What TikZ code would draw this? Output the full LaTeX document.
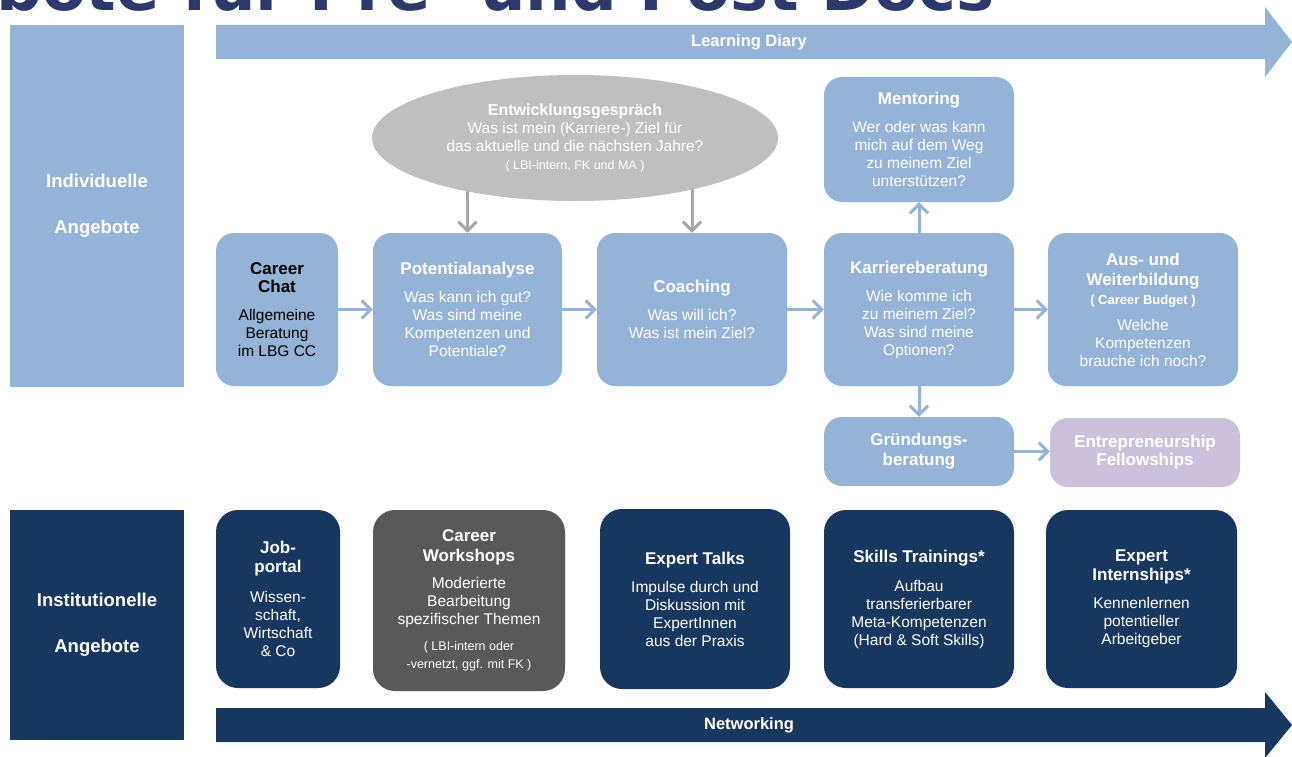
\documentclass[tikz,border=0pt]{standalone}
\usepackage{fontspec}
\setmainfont{Liberation Sans}
\newfontfamily\headfont{DejaVu Sans}
\usetikzlibrary{arrows.meta,shapes.geometric,backgrounds}
\definecolor{lblue}{HTML}{95B3D7}
\definecolor{navy}{HTML}{17375E}
\definecolor{dgray}{HTML}{595959}
\definecolor{lgray}{HTML}{BFBFBF}
\definecolor{agray}{HTML}{A6A6A6}
\definecolor{lpurple}{HTML}{CCC1DA}
\definecolor{titleblue}{HTML}{2B3A6B}
\newcommand{\tfont}{\fontsize{17}{18}\selectfont\bfseries}
\newcommand{\bfont}{\fontsize{15.5}{18}\selectfont\mdseries}
\newcommand{\sfont}{\fontsize{12.5}{18}\selectfont\mdseries}
\tikzset{
  cardbase/.style={rounded corners=18pt, inner sep=0pt, align=center, text=white,
    font=\fontsize{15.5}{18}\selectfont},
  lcard/.style={cardbase, fill=lblue},
  ncard/.style={cardbase, fill=navy, rounded corners=22pt},
  gcard/.style={cardbase, fill=dgray, rounded corners=22pt},
  pcard/.style={cardbase, fill=lpurple},
  panel/.style={inner sep=0pt, align=center, text=white,
    font=\fontsize{18.5}{46}\selectfont\bfseries},
  flow/.style={draw=lblue, line width=3pt, -{Straight Barb[length=9pt,width=18pt]}},
  gflow/.style={draw=agray, line width=3pt, -{Straight Barb[length=9pt,width=18pt]}},
  bannertext/.style={text=white, inner sep=0pt, font=\fontsize{16.5}{18}\selectfont\bfseries},
}
\begin{document}
\begin{tikzpicture}[x=1pt,y=-1pt]
\useasboundingbox (0,0) rectangle (1292,757);
% clipped heading
\begin{scope}
  \clip (0,0) rectangle (1292,757);
  \node[anchor=base west, inner sep=0pt, text=titleblue,
        font=\headfont\fontsize{64}{70}\selectfont\bfseries] (heading) at (-4,11) {bote für Pre- und Post Docs};
\end{scope}
% banners
\fill[lblue] (216,25) -- (1265,25) -- (1265,7) -- (1292,42) -- (1265,77) -- (1265,59) -- (216,59) -- cycle;
\node[bannertext] (diary) at (749,42) {Learning Diary};
\fill[navy] (216,708) -- (1265,708) -- (1265,692) -- (1292,725) -- (1265,758) -- (1265,742) -- (216,742) -- cycle;
\node[bannertext] (netw) at (749,725) {Networking};
% side panels
\node[panel, fill=lblue, minimum width=174, minimum height=362] (indiv) at (97,206) {Individuelle\\Angebote};
\node[panel, fill=navy, minimum width=174, minimum height=230] (inst) at (97,625) {Institutionelle\\Angebote};
% ellipse
\node[ellipse, fill=lgray, minimum width=406, minimum height=126, inner sep=0pt, align=center,
      text=white, font=\fontsize{15.5}{18}\selectfont] (ell) at (575,138)
  {{\fontsize{16}{18}\selectfont\bfseries Entwicklungsgespräch}\\Was ist mein (Karriere-) Ziel für\\das aktuelle und die nächsten Jahre?\\{\sfont ( LBI-intern, FK und MA )}};
% upper row
\node[lcard, text=black, minimum width=122, minimum height=153] (chat) at (277,309.5)
  {\tfont Career\\\tfont Chat\\[10pt]\bfont Allgemeine\\\bfont Beratung\\\bfont im LBG CC};
\node[lcard, minimum width=189, minimum height=153] (pot) at (467.5,309.5)
  {\tfont Potentialanalyse\\[10pt]\bfont Was kann ich gut?\\\bfont Was sind meine\\\bfont Kompetenzen und\\\bfont Potentiale?};
\node[lcard, minimum width=190, minimum height=153] (coach) at (692,309.5)
  {\tfont Coaching\\[10pt]\bfont Was will ich?\\\bfont Was ist mein Ziel?};
\node[lcard, minimum width=190, minimum height=153] (karr) at (919,309.5)
  {\tfont Karriereberatung\\[10pt]\bfont Wie komme ich\\\bfont zu meinem Ziel?\\\bfont Was sind meine\\\bfont Optionen?};
\node[lcard, minimum width=190, minimum height=153] (aus) at (1143,309.5)
  {\tfont Aus- und\\[2pt]\tfont Weiterbildung\\[1pt]\fontsize{13}{18}\selectfont\bfseries ( Career Budget )\\[8pt]\bfont Welche\\\bfont Kompetenzen\\\bfont brauche ich noch?};
\node[lcard, minimum width=190, minimum height=125] (ment) at (919,139.5)
  {\tfont Mentoring\\[10pt]\bfont Wer oder was kann\\\bfont mich auf dem Weg\\\bfont zu meinem Ziel\\\bfont unterstützen?};
\node[lcard, minimum width=190, minimum height=69] (grund) at (919,451.5)
  {\tfont Gründungs-\\[2pt]\tfont beratung};
\node[pcard, minimum width=190, minimum height=69] (fell) at (1145,452.5)
  {\tfont Entrepreneurship\\\tfont Fellowships};
% lower row
\node[ncard, minimum width=124, minimum height=178] (job) at (278,599)
  {\tfont Job-\\[1pt]\tfont portal\\[12pt]\bfont Wissen-\\\bfont schaft,\\\bfont Wirtschaft\\\bfont \& Co};
\node[gcard, minimum width=192, minimum height=181] (ws) at (469,600.5)
  {\tfont Career\\[2pt]\tfont Workshops\\[9pt]\bfont Moderierte\\\bfont Bearbeitung\\\bfont spezifischer Themen\\[8pt]\sfont ( LBI-intern oder\\\sfont -vernetzt, ggf. mit FK )};
\node[ncard, minimum width=190, minimum height=180] (talks) at (695,599)
  {\tfont Expert Talks\\[10pt]\bfont Impulse durch und\\\bfont Diskussion mit\\\bfont ExpertInnen\\\bfont aus der Praxis};
\node[ncard, minimum width=190, minimum height=178] (skills) at (919,599)
  {\tfont Skills Trainings*\\[11pt]\bfont Aufbau\\\bfont transferierbarer\\\bfont Meta-Kompetenzen\\\bfont (Hard \& Soft Skills)};
\node[ncard, minimum width=191, minimum height=178] (intern) at (1141.5,599)
  {\tfont Expert\\[1pt]\tfont Internships*\\[10pt]\bfont Kennenlernen\\\bfont potentieller\\\bfont Arbeitgeber};
% connectors
\begin{scope}[on background layer]
  \fill[white] (0,0) rectangle (1292,757);
  \draw[gflow] (pot.north |- ell.center) -- (pot.north);
  \draw[gflow] (coach.north |- ell.center) -- (coach.north);
\end{scope}
\draw[flow] (chat.east) -- (pot.west);
\draw[flow] (pot.east) -- (coach.west);
\draw[flow] (coach.east) -- (karr.west);
\draw[flow] (karr.east) -- (aus.west);
\draw[flow] (karr.north) -- (ment.south);
\draw[flow] (karr.south) -- (grund.north);
\draw[flow] (grund.east) -- (grund.east -| fell.west);
\end{tikzpicture}
\end{document}
